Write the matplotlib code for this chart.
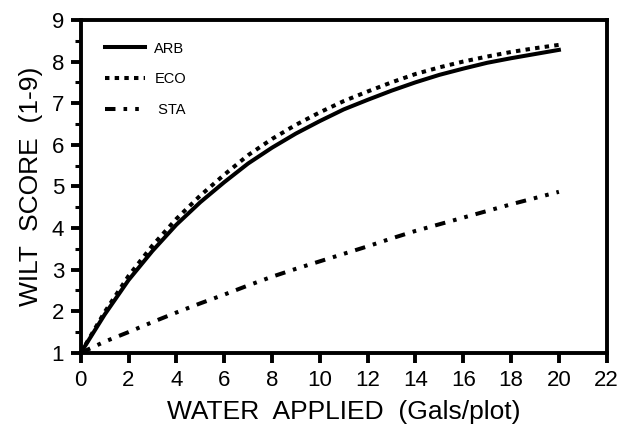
import matplotlib
matplotlib.use("Agg")
import matplotlib.pyplot as plt

plt.rcParams['font.family'] = ['Liberation Sans', 'DejaVu Sans']

water = [0, 1, 2, 3, 4, 5, 6, 7, 8, 9, 10, 11, 12, 13, 14, 15, 16, 17, 18, 19, 20]
arb = [1.0, 1.92, 2.75, 3.45, 4.08, 4.62, 5.10, 5.55, 5.93, 6.27, 6.57, 6.85, 7.08,
       7.30, 7.50, 7.68, 7.83, 7.97, 8.08, 8.18, 8.28]
eco = [1.0, 1.98, 2.85, 3.58, 4.22, 4.78, 5.28, 5.75, 6.14, 6.48, 6.78, 7.05, 7.28,
       7.50, 7.70, 7.86, 8.00, 8.12, 8.23, 8.32, 8.40]
sta = [1.0, 1.27, 1.50, 1.74, 1.97, 2.19, 2.40, 2.62, 2.83, 3.02, 3.20, 3.38, 3.56,
       3.75, 3.93, 4.09, 4.25, 4.41, 4.57, 4.72, 4.87]
labels = ["ARB", "ECO", " STA"]
xticks = [0, 2, 4, 6, 8, 10, 12, 14, 16, 18, 20, 22]
yticks = [1, 2, 3, 4, 5, 6, 7, 8, 9]

fig = plt.figure(figsize=(6.21, 4.33), dpi=100)
ax = fig.add_axes([0.130, 0.185, 0.847, 0.769])

ax.plot(water, arb, color='black', lw=2.9, linestyle='-', label=labels[0])
ax.plot(water, eco, color='black', lw=2.9, linestyle=(0, (1.1, 1.3)), label=labels[1])
ax.plot(water, sta, color='black', lw=2.9, linestyle=(0, (2.6, 2.0, 0.9, 2.0, 0.9, 2.0)), label=labels[2])

ax.set_xlim(0, 22)
ax.set_ylim(1, 9)
ax.set_xticks(xticks)
ax.set_yticks(yticks)
ax.set_yticks([y + 0.5 for y in yticks[:-1]], minor=True)

for s in ax.spines.values():
    s.set_linewidth(2.8)
ax.tick_params(axis='both', which='major', direction='out', length=7, width=2.8,
               labelsize=16, pad=5)
ax.tick_params(axis='y', which='minor', direction='out', length=4.5, width=2.2)

ax.set_xlabel("WATER  APPLIED  (Gals/plot)", fontsize=19, labelpad=7)
ax.set_ylabel("WILT  SCORE  (1-9)", fontsize=19, labelpad=6)

leg = ax.legend(loc='upper left', frameon=False, fontsize=10.5, handlelength=2.7,
                labelspacing=1.15, handletextpad=0.65, borderaxespad=0, borderpad=0,
                bbox_to_anchor=(0.047, 0.935))

fig.savefig("out.png", dpi=100)
